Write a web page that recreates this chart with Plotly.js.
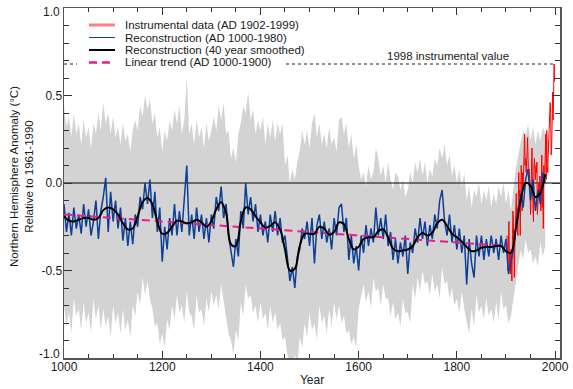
<!DOCTYPE html>
<html><head><meta charset="utf-8">
<script src="https://cdn.plot.ly/plotly-3.0.1.min.js"></script>
<style>html,body{margin:0;padding:0;background:#fff}#chart{width:573px;height:389px}</style>
</head><body><div id="chart"></div>
<script>
// ---------- DATA ----------
const reconStartYear = 1000;
const reconStepYears = 5;
const reconValues = [
 -0.12,-0.28,-0.17,-0.30,-0.14,-0.26,-0.18,-0.29,-0.12,-0.25,
 -0.15,-0.30,-0.22,-0.10,-0.32,-0.16,-0.08,0.03,-0.28,-0.05,
 -0.22,-0.10,-0.26,-0.14,-0.33,-0.20,-0.36,-0.22,-0.35,-0.18,
 -0.25,-0.08,-0.15,0.00,-0.12,0.02,-0.20,-0.05,-0.28,-0.14,
 -0.45,-0.25,-0.38,-0.20,-0.30,-0.12,-0.30,-0.16,-0.28,-0.10,
 0.10,-0.30,-0.18,-0.32,-0.14,-0.28,-0.18,-0.32,-0.20,-0.34,
 -0.18,-0.26,-0.08,-0.16,-0.02,-0.20,-0.12,-0.30,-0.40,-0.48,
 -0.32,-0.42,-0.16,-0.26,0.00,-0.18,-0.08,-0.22,-0.12,-0.28,
 -0.18,-0.30,-0.22,-0.34,-0.18,-0.28,-0.16,-0.30,-0.20,-0.34,
 -0.30,-0.45,-0.56,-0.48,-0.60,-0.42,-0.38,-0.26,-0.32,-0.22,
 -0.36,-0.20,-0.46,-0.24,-0.18,-0.32,-0.22,-0.34,-0.26,-0.38,
 -0.20,-0.30,-0.14,-0.12,-0.28,-0.20,-0.44,-0.30,-0.46,-0.36,
 -0.50,-0.30,-0.40,-0.24,-0.36,-0.26,-0.34,-0.14,-0.30,-0.20,
 -0.32,-0.18,-0.36,-0.28,-0.44,-0.32,-0.46,-0.34,-0.42,-0.30,
 -0.52,-0.34,-0.40,-0.26,-0.34,-0.20,-0.32,-0.22,-0.36,-0.24,
 -0.32,-0.18,-0.26,-0.10,-0.04,-0.22,-0.30,-0.18,-0.34,-0.24,
 -0.38,-0.26,-0.40,-0.30,-0.58,-0.32,-0.46,-0.54,-0.30,-0.42,
 -0.30,-0.44,-0.32,-0.42,-0.30,-0.40,-0.32,-0.44,-0.30,-0.40,
 -0.32,-0.52,-0.44,-0.38,-0.26,-0.18,-0.06,-0.14,0.02,0.08,
 -0.10,0.02,-0.16,-0.04,-0.12,0.06,0.00
];

// uncertainty band edges, every 5 years 1000-1980
const bandUpper = [
 0.44,0.32,0.38,0.26,0.40,0.28,0.34,0.22,0.36,0.26,
 0.32,0.20,0.34,0.28,0.40,0.30,0.46,0.34,0.40,0.28,
 0.38,0.26,0.32,0.22,0.34,0.24,0.28,0.18,0.30,0.36,
 0.30,0.44,0.38,0.50,0.42,0.48,0.34,0.40,0.26,0.32,
 0.18,0.30,0.24,0.36,0.30,0.42,0.34,0.44,0.28,0.36,
 0.60,0.28,0.34,0.22,0.36,0.26,0.32,0.20,0.34,0.24,
 0.30,0.38,0.30,0.44,0.36,0.46,0.28,0.30,0.14,0.20,
 0.12,0.28,0.34,0.44,0.40,0.52,0.36,0.42,0.28,0.36,
 0.30,0.38,0.22,0.34,0.26,0.36,0.24,0.34,0.28,0.34,
 0.10,0.16,0.00,0.08,0.02,0.12,0.18,0.30,0.22,0.30,
 0.20,0.34,0.40,0.26,0.34,0.22,0.28,0.20,0.32,0.22,
 0.26,0.18,0.36,0.38,0.28,0.34,0.20,0.28,0.14,0.22,
 0.10,0.02,0.06,-0.02,0.10,0.02,0.06,0.20,0.14,0.04,
 0.10,0.00,0.12,0.02,-0.04,0.06,0.04,-0.04,0.02,-0.08,
 -0.04,0.06,0.00,0.12,0.06,0.14,0.04,0.12,0.00,0.08,
 0.04,0.14,0.10,0.20,0.14,0.22,0.10,0.16,0.04,0.10,
 0.00,0.08,-0.02,0.06,-0.10,-0.02,-0.14,-0.04,-0.08,0.00,
 -0.12,-0.04,-0.10,-0.02,-0.14,-0.06,-0.12,-0.02,-0.08,0.00,
 -0.12,-0.04,-0.16,-0.02,0.08,0.16,0.24,0.30,0.26,0.34,
 0.24,0.32,0.22,0.30,0.24,0.32,0.28
];
const bandLower = [
 -0.70,-0.82,-0.74,-0.86,-0.66,-0.76,-0.72,-0.84,-0.68,-0.80,
 -0.74,-0.86,-0.66,-0.78,-0.70,-0.84,-0.72,-0.82,-0.76,-0.88,
 -0.70,-0.80,-0.74,-0.86,-0.72,-0.84,-0.78,-0.88,-0.70,-0.76,
 -0.62,-0.70,-0.54,-0.64,-0.56,-0.66,-0.72,-0.82,-0.80,-0.92,
 -0.86,-0.94,-0.78,-0.84,-0.70,-0.78,-0.64,-0.74,-0.70,-0.80,
 -0.62,-0.74,-0.76,-0.84,-0.64,-0.74,-0.72,-0.82,-0.66,-0.74,
 -0.62,-0.70,-0.64,-0.72,-0.58,-0.68,-0.76,-0.86,-0.90,-0.98,
 -0.84,-0.90,-0.68,-0.76,-0.58,-0.66,-0.64,-0.74,-0.70,-0.80,
 -0.68,-0.78,-0.74,-0.84,-0.70,-0.80,-0.74,-0.84,-0.80,-0.90,
 -0.88,-0.98,-1.04,-1.08,-0.98,-1.04,-0.88,-0.94,-0.80,-0.88,
 -0.74,-0.84,-0.80,-0.90,-0.70,-0.80,-0.76,-0.86,-0.72,-0.82,
 -0.68,-0.78,-0.70,-0.80,-0.76,-0.86,-0.84,-0.92,-0.88,-0.94,
 -0.72,-0.64,-0.58,-0.68,-0.62,-0.72,-0.54,-0.62,-0.60,-0.70,
 -0.58,-0.66,-0.66,-0.76,-0.68,-0.78,-0.74,-0.82,-0.66,-0.74,
 -0.74,-0.80,-0.58,-0.66,-0.54,-0.62,-0.50,-0.58,-0.56,-0.64,
 -0.52,-0.62,-0.58,-0.66,-0.48,-0.58,-0.56,-0.66,-0.60,-0.70,
 -0.66,-0.74,-0.62,-0.72,-0.80,-0.86,-0.72,-0.82,-0.64,-0.74,
 -0.70,-0.78,-0.66,-0.76,-0.72,-0.80,-0.68,-0.78,-0.62,-0.72,
 -0.70,-0.80,-0.76,-0.66,-0.56,-0.48,-0.38,-0.44,-0.32,-0.40,
 -0.38,-0.46,-0.42,-0.48,-0.34,-0.42,-0.36
];

// 40-year smoothed reconstruction, every 10 years 1000-1980
const smoothStartYear = 1000;
const smoothStepYears = 10;
const smoothValues = [
 -0.19,-0.215,-0.22,-0.21,-0.20,-0.20,-0.21,-0.20,-0.155,-0.14,
 -0.15,-0.18,-0.23,-0.265,-0.26,-0.19,-0.11,-0.085,-0.12,-0.22,
 -0.29,-0.285,-0.25,-0.215,-0.22,-0.23,-0.225,-0.21,-0.225,-0.25,
 -0.22,-0.15,-0.11,-0.17,-0.35,-0.36,-0.22,-0.14,-0.15,-0.19,
 -0.225,-0.255,-0.245,-0.225,-0.265,-0.38,-0.50,-0.49,-0.36,-0.29,
 -0.29,-0.29,-0.25,-0.26,-0.295,-0.28,-0.225,-0.235,-0.32,-0.38,
 -0.365,-0.32,-0.31,-0.31,-0.275,-0.265,-0.31,-0.375,-0.39,-0.385,
 -0.38,-0.36,-0.31,-0.285,-0.30,-0.285,-0.23,-0.21,-0.245,-0.29,
 -0.31,-0.335,-0.365,-0.39,-0.385,-0.37,-0.365,-0.365,-0.36,-0.36,
 -0.39,-0.40,-0.26,-0.095,0.00,-0.015,-0.08,-0.055,0.05
];

const instStartYear = 1902;
const instValues = [
 -0.30,-0.42,-0.50,-0.34,-0.22,-0.48,-0.40,-0.52,-0.38,-0.44,
 -0.56,-0.36,-0.16,-0.20,-0.40,-0.54,-0.36,-0.24,-0.20,-0.06,
 -0.24,-0.14,-0.30,-0.10,0.06,-0.08,-0.04,-0.30,0.04,0.10,
 0.02,-0.16,0.06,-0.02,0.08,0.20,0.28,0.10,0.14,0.06,
 0.10,0.18,0.26,0.06,0.02,0.08,0.04,-0.02,-0.18,0.04,
 0.10,0.20,-0.06,-0.12,-0.22,0.10,0.14,0.08,0.02,0.10,
 0.06,0.12,-0.18,-0.12,-0.02,0.00,-0.08,0.04,0.00,-0.16,
 -0.06,0.16,-0.14,-0.04,-0.26,0.10,0.00,0.06,0.14,0.28,
 0.02,0.30,0.10,0.06,0.16,0.24,0.32,0.30,0.46,0.40,
 0.16,0.20,0.34,0.52,0.36,0.52,0.68,0.58
];

const trendYears = [1000, 1900];
const trendValues = [-0.18, -0.36];

const xTickVals = [1000, 1200, 1400, 1600, 1800, 2000];
const xTickText = ['1000', '1200', '1400', '1600', '1800', '2000'];
const yTickVals = [-1.0, -0.5, 0.0, 0.5, 1.0];
const yTickText = ['-1.0', '-0.5', '0.0', '0.5', '1.0'];

const legendLabels = [
  'Instrumental data (AD 1902-1999)',
  'Reconstruction (AD 1000-1980)',
  'Reconstruction (40 year smoothed)',
  'Linear trend (AD 1000-1900)'
];
const markerLabel = '1998 instrumental value';
const markerYear = 1998;
const xTitle = 'Year';
const yTitle = 'Northern Hemisphere Anomaly (°C)<br>Relative to 1961-1990';

// ---------- build ----------
const seq = (start, step, n) => Array.from({length: n}, (_, i) => start + i * step);
const reconYears = seq(reconStartYear, reconStepYears, reconValues.length);
const bandYears = seq(reconStartYear, reconStepYears, bandUpper.length);
const smoothYears = seq(smoothStartYear, smoothStepYears, smoothValues.length);
const instYears = seq(instStartYear, 1, instValues.length);
const value1998 = instValues[instYears.indexOf(markerYear)];

const COL = {
  band: '#d3d3d3', inst: '#ff0000', recon: '#0d3f96', smooth: '#000000',
  trend: '#ec1c8c', text: '#1a1a1a', axis: '#555555'
};

const traces = [
  {x: bandYears, y: bandLower, type: 'scatter', mode: 'lines',
   line: {width: 0, color: COL.band}, hoverinfo: 'skip', showlegend: false},
  {x: bandYears, y: bandUpper, type: 'scatter', mode: 'lines', fill: 'tonexty',
   fillcolor: COL.band, line: {width: 0, color: COL.band}, hoverinfo: 'skip', showlegend: false},
  {x: [1000, 2010], y: [0, 0], type: 'scatter', mode: 'lines',
   line: {width: 1, color: '#000'}, hoverinfo: 'skip', showlegend: false},
  {x: instYears, y: instValues, type: 'scatter', mode: 'lines',
   line: {width: 1, color: COL.inst}, name: legendLabels[0], showlegend: false},
  {x: reconYears, y: reconValues, type: 'scatter', mode: 'lines',
   line: {width: 1.5, color: COL.recon}, name: legendLabels[1], showlegend: false},
  {x: trendYears, y: trendValues, type: 'scatter', mode: 'lines',
   line: {width: 2, color: COL.trend, dash: '8px,5px'}, name: legendLabels[3], showlegend: false},
  {x: smoothYears, y: smoothValues, type: 'scatter', mode: 'lines',
   line: {width: 2, color: COL.smooth, shape: 'spline', smoothing: 1}, name: legendLabels[2], showlegend: false}
];

// legend geometry (plot-area pixels -> paper)
const L = 64, T = 8, W = 496, H = 350;
const px = p => (p - L) / W;
const py = q => (T + H - q) / H;
const rowsY = [25, 37.5, 50, 62.5];
const legendStyles = [
  {color: '#ff7f86', width: 3, dash: 'solid'},
  {color: COL.recon, width: 1, dash: 'solid'},
  {color: '#000', width: 2, dash: 'solid'},
  {color: COL.trend, width: 2.5, dash: '8px,5px'}
];

const shapes = [
  {type: 'line', xref: 'x', yref: 'y', x0: 1000, x1: 2000, y0: value1998, y1: value1998,
   line: {color: '#222', width: 1, dash: 'dot'}, layer: 'above'},
  {type: 'rect', xref: 'paper', yref: 'paper', x0: px(77), x1: px(286), y0: py(69), y1: py(56),
   fillcolor: '#fff', line: {width: 0}, layer: 'above'}
];
legendStyles.forEach((s, i) => {
  shapes.push({type: 'line', xref: 'paper', yref: 'paper', x0: px(89), x1: px(115),
    y0: py(rowsY[i]), y1: py(rowsY[i]), line: s, layer: 'above'});
});

const annotations = legendLabels.map((t, i) => ({
  xref: 'paper', yref: 'paper', x: px(123), y: py(rowsY[i]), xanchor: 'left', yanchor: 'middle',
  text: t, showarrow: false, font: {size: 11.5, color: COL.text}
}));
annotations.push({xref: 'x', yref: 'y', x: 1782, y: value1998, xanchor: 'center', yanchor: 'bottom',
  text: markerLabel, showarrow: false, font: {size: 11.5, color: COL.text}, yshift: 0});
// y-axis title (two lines, rotated)
annotations.push({xref: 'paper', yref: 'paper', x: px(21), y: py(177), xanchor: 'center', yanchor: 'middle',
  text: yTitle, textangle: -90, showarrow: false, font: {size: 11.5, color: COL.text}});
// end labels of the y axis sit slightly inside the frame, as in the reference
annotations.push({xref: 'paper', yref: 'y', x: px(62), y: yTickVals[0], xanchor: 'right', yanchor: 'middle',
  yshift: 4, text: yTickText[0], showarrow: false, font: {size: 12, color: COL.text}});
annotations.push({xref: 'paper', yref: 'y', x: px(62), y: yTickVals[4], xanchor: 'right', yanchor: 'middle',
  yshift: -4, text: yTickText[4], showarrow: false, font: {size: 12, color: COL.text}});

const layout = {
  width: 573, height: 389,
  margin: {l: 64, r: 13, t: 8, b: 31, pad: 0},
  paper_bgcolor: '#fff', plot_bgcolor: '#fff',
  showlegend: false,
  font: {family: '"Liberation Sans", Arial, sans-serif', size: 12, color: COL.text},
  xaxis: {
    range: [1000, 2010], tickmode: 'array', tickvals: xTickVals, ticktext: xTickText,
    ticks: 'inside', ticklen: 7, tickwidth: 1, tickcolor: '#333',
    showline: true, linecolor: COL.axis, linewidth: 1.5, mirror: 'ticks',
    showgrid: false, zeroline: false, ticklabelstandoff: -3,
    minor: {tickmode: 'linear', tick0: 1000, dtick: 50, ticks: 'inside', ticklen: 4, tickwidth: 1, tickcolor: '#333', showgrid: false},
    tickfont: {size: 12, color: COL.text},
    title: {text: xTitle, font: {size: 12, color: COL.text}, standoff: 2}
  },
  yaxis: {
    range: [-1, 1], tickmode: 'array', tickvals: yTickVals.slice(1, 4), ticktext: yTickText.slice(1, 4),
    ticks: 'inside', ticklen: 8, tickwidth: 1, tickcolor: '#333',
    showline: true, linecolor: COL.axis, linewidth: 1.5, mirror: 'ticks',
    showgrid: false, zeroline: false, ticklabelstandoff: -2,
    minor: {tickmode: 'linear', tick0: -1, dtick: 0.1, ticks: 'inside', ticklen: 5, tickwidth: 1, tickcolor: '#333', showgrid: false},
    tickfont: {size: 12, color: COL.text}
  },
  shapes: shapes,
  annotations: annotations
};

Plotly.newPlot('chart', traces, layout, {displayModeBar: false, staticPlot: true});
</script>
</body></html>
